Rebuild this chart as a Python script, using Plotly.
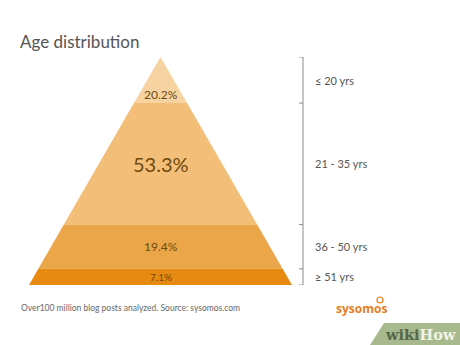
import plotly.graph_objects as go

# ---- data ----
age_groups = ["≤ 20 yrs", "21 - 35 yrs", "36 - 50 yrs", "≥ 51 yrs"]
shares = [20.2, 53.3, 19.4, 7.1]
share_labels = ["20.2%", "53.3%", "19.4%", "7.1%"]
band_colors = ["#F6D3A0", "#F2BE78", "#EBA649", "#E68A12"]
label_sizes = [12, 20, 12, 10]
label_shift = [-14, 0, 0, 0]

W, H = 460, 345
CX, HALF = 160.5, 131.5          # pyramid centre / base half-width (x axis units = px)
Y_BASE_PX, Y_TOP_PX = 285, 57     # pixel rows of base and apex
TOTAL = sum(shares)

fig = go.Figure()

# boundaries from the top (apex) down
tops = []
acc = TOTAL
for s in shares:
    tops.append((acc, acc - s))
    acc -= s

def half_width(y):
    return HALF * (TOTAL - y) / TOTAL

for (yt, yb), col, name in zip(tops, band_colors, age_groups):
    xs = [CX - half_width(yb), CX + half_width(yb), CX + half_width(yt), CX - half_width(yt), CX - half_width(yb)]
    ys = [yb, yb, yt, yt, yb]
    fig.add_trace(go.Scatter(x=xs, y=ys, fill="toself", fillcolor=col, mode="lines",
                             line=dict(width=0, color=col), hoverinfo="skip", showlegend=False, name=name))

# bracket on the right
BX = 303
bounds = [TOTAL] + [b for _, b in tops]
fig.add_trace(go.Scatter(x=[BX, BX], y=[bounds[0], bounds[-1]], mode="lines",
                         line=dict(color="#8a8a8a", width=1), hoverinfo="skip", showlegend=False))
for b in bounds:
    fig.add_trace(go.Scatter(x=[BX - 4, BX], y=[b, b], mode="lines", line=dict(color="#8a8a8a", width=1),
                             hoverinfo="skip", showlegend=False))

FONT = "Lato, Open Sans, sans-serif"
for (yt, yb), lab, grp, fs, sh in zip(tops, share_labels, age_groups, label_sizes, label_shift):
    mid = (yt + yb) / 2
    fig.add_annotation(x=CX, y=mid, text=lab, showarrow=False, xanchor="center", yanchor="middle",
                       yshift=sh, font=dict(family=FONT, size=fs, color="#6E4A0E"))
    fig.add_annotation(x=313, y=mid, text=grp, showarrow=False, xanchor="left", yanchor="middle",
                       font=dict(family=FONT, size=11, color="#555555"))

# title / footer / logo
fig.add_annotation(xref="paper", yref="paper", x=18 / W, y=1 - 41 / H, text="Age distribution",
                   showarrow=False, xanchor="left", yanchor="middle",
                   font=dict(family=FONT, size=17, color="#555555"))
fig.add_annotation(xref="paper", yref="paper", x=19 / W, y=1 - 308 / H,
                   text="Over100 million blog posts analyzed. Source: sysomos.com",
                   showarrow=False, xanchor="left", yanchor="middle",
                   font=dict(family=FONT, size=8.5, color="#666666"))
fig.add_annotation(xref="paper", yref="paper", x=361 / W, y=1 - 308 / H, text="<b>sysomos</b>",
                   showarrow=False, xanchor="center", yanchor="middle",
                   font=dict(family="Open Sans, sans-serif", size=12, color="#E87E1C"))
fig.add_shape(type="circle", xref="paper", yref="paper", x0=377 / W, x1=383 / W,
              y0=1 - 303 / H, y1=1 - 297 / H, line=dict(color="#E87E1C", width=1.2),
              fillcolor="rgba(0,0,0,0)")

# wikiHow badge
fig.add_shape(type="path", xref="paper", yref="paper",
              path=f"M {370/W},0 L {384/W},{22/H} L 1,{22/H} L 1,0 Z",
              fillcolor="#A8BA8D", line=dict(width=0))
fig.add_annotation(xref="paper", yref="paper", x=420 / W, y=1 - 334 / H,
                   text="<b><span style='color:#56664A'>wiki</span>How</b>",
                   showarrow=False, xanchor="center", yanchor="middle",
                   font=dict(family="DejaVu Serif, serif", size=14.5, color="#F1F4EA"))

fig.update_layout(
    width=W, height=H, margin=dict(l=0, r=0, t=0, b=0),
    paper_bgcolor="white", plot_bgcolor="white", showlegend=False,
    xaxis=dict(range=[0, W], domain=[0, 1], visible=False, fixedrange=True),
    yaxis=dict(range=[0, TOTAL], domain=[1 - Y_BASE_PX / H, 1 - Y_TOP_PX / H], visible=False, fixedrange=True),
)

fig.write_html("out.html")
